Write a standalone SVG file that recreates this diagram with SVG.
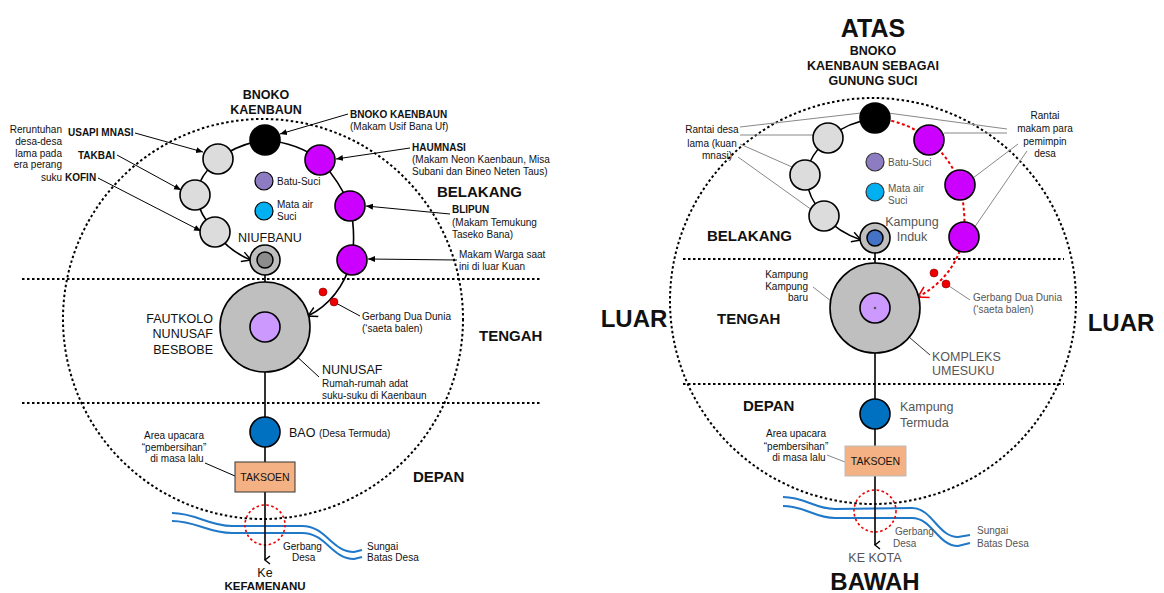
<svg xmlns="http://www.w3.org/2000/svg" width="1164" height="593" viewBox="0 0 1164 593">
<defs>
<style>
text{font-family:"Liberation Sans",Arial,sans-serif;fill:#111}
.b{font-weight:bold}
.s{font-size:10px}
.m{font-size:12.5px}
.z{font-size:15px;font-weight:bold}
.g{fill:#555}
.dot{fill:none;stroke:#000;stroke-width:2;stroke-dasharray:2.5 2.5}
.ch{fill:none;stroke:#000;stroke-width:1.6}
.ln{fill:none;stroke:#000;stroke-width:1}
.gl{fill:none;stroke:#888;stroke-width:1}
.nd{stroke:#000;stroke-width:1.6}
.gr{fill:#dcdcdc}
.pu{fill:#cc00ff}
.riv{fill:none;stroke:#1f78c8;stroke-width:2}
.red{fill:none;stroke:#e00;stroke-width:2;stroke-dasharray:3 2.5}
</style>
<marker id="ov" markerWidth="12" markerHeight="12" refX="10" refY="6" orient="auto" markerUnits="userSpaceOnUse"><path d="M1,1 L10,6 L1,11" fill="none" stroke="#000" stroke-width="1.4"/></marker>
<marker id="ovr" markerWidth="14" markerHeight="14" refX="11" refY="7" orient="auto" markerUnits="userSpaceOnUse"><path d="M1,1 L11,7 L1,13" fill="none" stroke="#e00" stroke-width="1.6"/></marker>
<marker id="sm" markerWidth="8" markerHeight="8" refX="7" refY="4" orient="auto" markerUnits="userSpaceOnUse"><path d="M0,1 L7,4 L0,7 Z" fill="#000"/></marker>
<marker id="dn" markerWidth="10" markerHeight="10" refX="5" refY="8" orient="auto" markerUnits="userSpaceOnUse"><path d="M1,3 L5,8 L9,3" fill="none" stroke="#000" stroke-width="1.4"/></marker>
</defs>
<rect width="1164" height="593" fill="#fff"/>

<!-- ================= LEFT DIAGRAM ================= -->
<g id="left-zones">
<circle class="dot" cx="263" cy="319" r="200"/>
<line class="dot" x1="22" y1="279" x2="540" y2="279"/>
<line class="dot" x1="22" y1="403" x2="540" y2="403"/>
<path class="riv" d="M172,513 C196,513 208,526 232,526 L302,526 C326,526 332,552 354,552 L362,550"/>
<path class="riv" d="M172,521 C196,521 208,533 232,533 L302,533 C326,533 332,559 354,559 L362,557"/>
<circle cx="265" cy="525" r="20" fill="none" stroke="#e00" stroke-width="1.6" stroke-dasharray="2.5 2.5"/>
</g>

<g id="left-connectors">
<path class="ch" d="M265,140 Q238,144 218,159 Q200,175 195,195 Q200,215 215,232 Q230,252 251,260" marker-end="url(#ov)"/>
<path class="ch" d="M265,140 Q298,143 320,160 Q340,182 350,206 Q356,232 352,260 Q340,300 308,316" marker-end="url(#ov)"/>
<line class="ch" x1="265" y1="275" x2="265" y2="282"/>
<line class="ch" x1="265" y1="372" x2="265" y2="417"/>
<line class="ch" x1="265" y1="447" x2="265" y2="462"/>
<line class="ch" x1="265" y1="492" x2="265" y2="560" marker-end="url(#dn)"/>
<line class="ln" x1="135" y1="133" x2="203" y2="152" marker-end="url(#sm)"/>
<line class="ln" x1="117" y1="155" x2="181" y2="190" marker-end="url(#sm)"/>
<line class="ln" x1="98" y1="178" x2="201" y2="231" marker-end="url(#sm)"/>
<line class="ln" x1="348" y1="114" x2="280" y2="134" marker-end="url(#sm)"/>
<line class="ln" x1="410" y1="148" x2="336" y2="159" marker-end="url(#sm)"/>
<line class="ln" x1="450" y1="214" x2="366" y2="206" marker-end="url(#sm)"/>
<line class="ln" x1="457" y1="260" x2="368" y2="259" marker-end="url(#sm)"/>
<line class="ln" x1="334" y1="302" x2="360" y2="316"/>
<line class="ln" x1="319" y1="377" x2="266" y2="328" marker-end="url(#sm)"/>
<line class="ln" x1="205" y1="463" x2="235" y2="476"/>
</g>

<g id="left-black"><circle class="nd" cx="265" cy="140" r="15" fill="#000"/></g>
<g id="left-gray1"><circle class="nd gr" cx="218" cy="159" r="15"/></g>
<g id="left-gray2"><circle class="nd gr" cx="195" cy="195" r="15"/></g>
<g id="left-gray3"><circle class="nd gr" cx="215" cy="232" r="15"/></g>
<g id="left-purple1"><circle class="nd pu" cx="320" cy="160" r="15"/></g>
<g id="left-purple2"><circle class="nd pu" cx="350" cy="206" r="15"/></g>
<g id="left-purple3"><circle class="nd pu" cx="352" cy="260" r="15"/></g>
<g id="left-batu"><circle cx="264" cy="181" r="9" fill="#8e7cc3" stroke="#000" stroke-width="1.2"/><text class="s" x="277" y="185">Batu-Suci</text></g>
<g id="left-mata"><circle cx="264" cy="211" r="9" fill="#00b0f0" stroke="#000" stroke-width="1.2"/><text class="s" x="277" y="208">Mata air</text><text class="s" x="277" y="220">Suci</text></g>
<g id="left-niufbanu"><circle class="nd" cx="265" cy="260" r="15" fill="#bfbfbf"/><circle cx="265" cy="260" r="8" fill="#8c8c8c" stroke="#000" stroke-width="1.5"/><text class="m" x="238" y="242">NIUFBANU</text></g>
<g id="left-fautkolo"><circle class="nd" cx="265" cy="327" r="45" fill="#bfbfbf"/><circle class="nd" cx="265" cy="327" r="15" fill="#cc99ff"/>
<text class="m" x="213" y="323" text-anchor="end">FAUTKOLO</text><text class="m" x="213" y="338" text-anchor="end">NUNUSAF</text><text class="m" x="213" y="354" text-anchor="end">BESBOBE</text></g>
<g id="left-gerbang-dua"><circle cx="323" cy="292" r="4" fill="#e00" stroke="#800" stroke-width="0.6"/><circle cx="334" cy="302" r="4" fill="#e00" stroke="#800" stroke-width="0.6"/>
<text class="s" x="362" y="320">Gerbang Dua Dunia</text><text class="s" x="362" y="332">(‘saeta balen)</text></g>
<g id="left-bao"><circle class="nd" cx="265" cy="432" r="15" fill="#0070c0"/><text x="289" y="437" class="m">BAO <tspan class="s">(Desa Termuda)</tspan></text></g>
<g id="left-taksoen"><rect x="235" y="462" width="60" height="30" fill="#f4b183" stroke="#333" stroke-width="1"/><text x="265" y="481" text-anchor="middle" font-size="10.5">TAKSOEN</text></g>

<g id="left-labels">
<text class="m b" x="266" y="99" text-anchor="middle" font-size="12">BNOKO</text>
<text class="m b" x="266" y="114" text-anchor="middle" font-size="12">KAENBAUN</text>
<g class="s" text-anchor="end"><text x="62" y="133">Reruntuhan</text><text x="62" y="145">desa-desa</text><text x="62" y="157">lama pada</text><text x="62" y="168">era perang</text><text x="62" y="181">suku</text></g>
<text class="s b" x="68" y="136">USAPI MNASI</text>
<text class="s b" x="78" y="159">TAKBAI</text>
<text class="s b" x="65" y="181">KOFIN</text>
<text class="s b" x="350" y="118">BNOKO KAENBAUN</text>
<text class="s" x="350" y="130">(Makam Usif Bana Uf)</text>
<text class="s b" x="412" y="151">HAUMNASI</text>
<text class="s" x="412" y="163">(Makam Neon Kaenbaun, Misa</text>
<text class="s" x="412" y="175">Subani dan Bineo Neten Taus)</text>
<text class="z" x="437" y="197">BELAKANG</text>
<text class="s b" x="452" y="213">BLIPUN</text>
<text class="s" x="452" y="226">(Makam Temukung</text>
<text class="s" x="452" y="238">Taseko Bana)</text>
<text class="s" x="459" y="258">Makam Warga saat</text>
<text class="s" x="459" y="270">ini di luar Kuan</text>
<text class="z" x="479" y="341" font-size="14">TENGAH</text>
<text class="m" x="322" y="374">NUNUSAF</text>
<text class="s" x="322" y="387">Rumah-rumah adat</text>
<text class="s" x="322" y="399">suku-suku di Kaenbaun</text>
<g class="s" text-anchor="middle"><text x="174" y="439">Area upacara</text><text x="174" y="451">“pembersihan”</text><text x="177" y="462">di masa lalu</text></g>
<text class="z" x="413" y="482">DEPAN</text>
<text class="s" x="283" y="550">Gerbang</text>
<text class="s" x="292" y="561">Desa</text>
<text class="s" x="367" y="550">Sungai</text>
<text class="s" x="367" y="561">Batas Desa</text>
<text class="m" x="265" y="577" text-anchor="middle">Ke</text>
<text class="b" x="265" y="590" text-anchor="middle" font-size="11.5">KEFAMENANU</text>
</g>

<!-- ================= RIGHT DIAGRAM ================= -->
<g id="right-zones">
<circle class="dot" cx="873" cy="301" r="203"/>
<line class="dot" x1="683" y1="259" x2="1064" y2="259"/>
<line class="dot" x1="683" y1="384" x2="1064" y2="384"/>
<path class="riv" d="M783,497 C805,497 815,509 835,509 L912,508 C932,508 938,537 958,537 L970,535"/>
<path class="riv" d="M783,506 C805,506 815,518 835,518 L912,518 C932,518 938,546 958,546 L970,543"/>
<circle cx="875" cy="511" r="21" fill="none" stroke="#e00" stroke-width="1.6" stroke-dasharray="2.5 2.5"/>
</g>

<g id="right-connectors">
<path class="ch" d="M875,118 Q848,122 828,138 Q810,155 805,175 Q808,198 824,216 Q838,232 861,240" marker-end="url(#ov)"/>
<path class="red" d="M875,118 Q910,122 929,140 Q952,160 960,185 Q966,212 964,237 Q955,277 918,297" marker-end="url(#ovr)"/>
<line class="ch" x1="875" y1="253" x2="875" y2="263"/>
<line class="ch" x1="875" y1="353" x2="875" y2="399"/>
<line class="ch" x1="875" y1="429" x2="875" y2="446"/>
<line class="ch" x1="875" y1="476" x2="875" y2="545" marker-end="url(#dn)"/>
<line class="gl" x1="740" y1="127" x2="861" y2="113"/>
<line class="gl" x1="740" y1="135" x2="813" y2="135"/>
<line class="gl" x1="740" y1="144" x2="792" y2="167"/>
<line class="gl" x1="738" y1="157" x2="812" y2="210"/>
<line class="gl" x1="888" y1="113" x2="1007" y2="129"/>
<line class="gl" x1="944" y1="133" x2="1007" y2="133"/>
<line class="gl" x1="973" y1="178" x2="1018" y2="144"/>
<line class="gl" x1="974" y1="228" x2="1027" y2="151"/>
<line class="gl" x1="946" y1="284" x2="970" y2="300"/>
<line class="gl" x1="813" y1="287" x2="840" y2="308"/>
<line x1="875" y1="308" x2="930" y2="355" stroke="#333" stroke-width="1"/>
<line class="gl" x1="827" y1="455" x2="845" y2="462"/>
</g>

<g id="right-black"><circle class="nd" cx="875" cy="118" r="15" fill="#000"/></g>
<g id="right-gray1"><circle class="nd gr" cx="828" cy="138" r="15"/></g>
<g id="right-gray2"><circle class="nd gr" cx="805" cy="175" r="15"/></g>
<g id="right-gray3"><circle class="nd gr" cx="824" cy="216" r="15"/></g>
<g id="right-purple1"><circle class="nd pu" cx="929" cy="140" r="15"/></g>
<g id="right-purple2"><circle class="nd pu" cx="960" cy="185" r="15"/></g>
<g id="right-purple3"><circle class="nd pu" cx="964" cy="237" r="15"/></g>
<g id="right-batu"><circle cx="875" cy="162" r="9" fill="#8e7cc3" stroke="#333" stroke-width="1.2"/><text class="s g" x="888" y="166">Batu-Suci</text></g>
<g id="right-mata"><circle cx="875" cy="192" r="9" fill="#00b0f0" stroke="#333" stroke-width="1.2"/><text class="s g" x="888" y="192">Mata air</text><text class="s g" x="888" y="204">Suci</text></g>
<g id="right-induk"><circle class="nd" cx="875" cy="238" r="15" fill="#bfbfbf"/><circle cx="875" cy="238" r="8" fill="#4472c4" stroke="#000" stroke-width="1.5"/>
<text class="m g" x="912" y="226" text-anchor="middle" font-size="12.5">Kampung</text><text class="m g" x="912" y="241" text-anchor="middle">Induk</text></g>
<g id="right-umesuku"><circle class="nd" cx="875" cy="308" r="45" fill="#bfbfbf"/><circle class="nd" cx="875" cy="308" r="15" fill="#cc99ff"/><circle cx="875" cy="308" r="1.3" fill="#555"/>
<text class="m g" x="932" y="361">KOMPLEKS</text><text class="m g" x="932" y="375">UMESUKU</text>
<g class="s g" text-anchor="end" font-size="9.5"><text x="808" y="278">Kampung</text><text x="808" y="290">Kampung</text><text x="808" y="301">baru</text></g></g>
<g id="right-gerbang-dua"><circle cx="934" cy="273" r="4" fill="#e00" stroke="#800" stroke-width="0.6"/><circle cx="946" cy="284" r="4" fill="#e00" stroke="#800" stroke-width="0.6"/>
<text class="s g" x="973" y="301">Gerbang Dua Dunia</text><text class="s g" x="973" y="313">(‘saeta balen)</text></g>
<g id="right-termuda"><circle class="nd" cx="875" cy="414" r="15" fill="#0070c0"/><text class="m g" x="900" y="411">Kampung</text><text class="m g" x="900" y="427">Termuda</text></g>
<g id="right-taksoen"><rect x="845" y="446" width="61" height="30" fill="#f4b183" stroke="#bbb" stroke-width="1"/><text x="875.5" y="465" text-anchor="middle" font-size="10.5" fill="#444">TAKSOEN</text></g>

<g id="right-labels">
<text class="b" x="873" y="37" text-anchor="middle" font-size="25">ATAS</text>
<text class="b" x="873" y="55" text-anchor="middle" font-size="12.5">BNOKO</text>
<text class="b" x="873" y="70" text-anchor="middle" font-size="12.5">KAENBAUN SEBAGAI</text>
<text class="b" x="873" y="85" text-anchor="middle" font-size="12.5">GUNUNG SUCI</text>
<g class="s g" text-anchor="middle"><text x="712" y="133">Rantai desa</text><text x="712" y="147">lama (kuan</text><text x="717" y="159">mnasi)</text></g>
<g class="s g" text-anchor="middle"><text x="1045" y="119">Rantai</text><text x="1045" y="132">makam para</text><text x="1045" y="145">pemimpin</text><text x="1045" y="157">desa</text></g>
<text class="z" x="707" y="241">BELAKANG</text>
<text class="z" x="717" y="324">TENGAH</text>
<text class="z" x="743" y="411">DEPAN</text>
<text class="b" x="634" y="327" text-anchor="middle" font-size="24">LUAR</text>
<text class="b" x="1121" y="331" text-anchor="middle" font-size="24">LUAR</text>
<g class="s g" text-anchor="middle"><text x="796" y="437">Area upacara</text><text x="796" y="450">“pembersihan”</text><text x="799" y="461">di masa lalu</text></g>
<text class="s g" x="895" y="535">Gerbang</text>
<text class="s g" x="893" y="547">Desa</text>
<text class="s g" x="977" y="534">Sungai</text>
<text class="s g" x="977" y="547">Batas Desa</text>
<text class="m g" x="875" y="562" text-anchor="middle">KE KOTA</text>
<text class="b" x="875" y="590" text-anchor="middle" font-size="24">BAWAH</text>
</g>
</svg>
